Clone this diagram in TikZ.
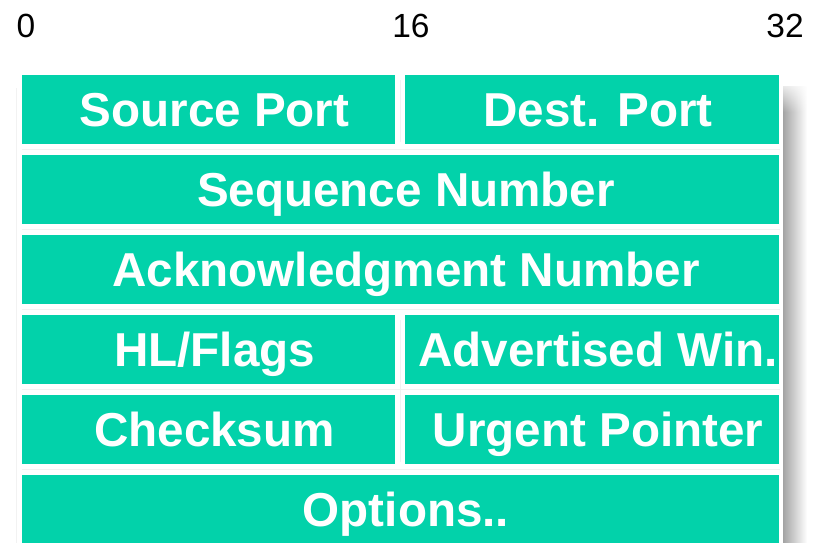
\documentclass[tikz,border=0pt]{standalone}
\usepackage{fontspec}
\setmainfont{Liberation Sans}
\usetikzlibrary{fadings}
\definecolor{teal1}{RGB}{2,210,170}
\tikzset{
  field/.style={fill=teal1, draw=none},
  ftext/.style={text=white, font=\bfseries\fontsize{47.6}{50}\selectfont, inner sep=0pt, anchor=base},
  bit/.style={text=black, font=\fontsize{33.5}{36}\selectfont, inner sep=0pt, anchor=base},
  gapline/.style={draw=black!5, line width=1pt}
}
\begin{document}
\begin{tikzpicture}[x=1pt,y=-1pt]
\useasboundingbox (0,0) rectangle (817,542);
\clip (0,0) rectangle (817,542);
% shadow
\shade[left color=black!36, right color=white] (783,86) rectangle (807,545);
\fill[white, path fading=south] (782,78) rectangle (808,112);
% faint gap lines
\draw[gapline] (16,88) -- (16,545);
\draw[gapline] (22,149.5) -- (780,149.5);
\draw[gapline] (22,229.5) -- (780,229.5);
\draw[gapline] (22,309.5) -- (780,309.5);
\draw[gapline] (22,389.5) -- (780,389.5);
\draw[gapline] (22,469.5) -- (780,469.5);
\draw[gapline] (400,80) -- (400,142);
\draw[gapline] (400,320) -- (400,462);
% bit labels
\node[bit] (b0) at (26,37.5) {0};
\node[bit] (b16) at (411,37.5) {16};
\node[bit] (b32) at (785,37.5) {32};
% fields
\fill[field] (22,75) rectangle (395,144);
\fill[field] (405,75) rectangle (778.5,144);
\fill[field] (22,155) rectangle (778.5,224);
\fill[field] (22,235) rectangle (778.5,304);
\fill[field] (22,315) rectangle (395,384);
\fill[field] (405,315) rectangle (778.5,384);
\fill[field] (22,395) rectangle (395,464);
\fill[field] (405,395) rectangle (778.5,464);
\fill[field] (22,475) rectangle (778.5,544);
% texts
\node[ftext] (sp) at (214.5,126) {Source Port};
\node[ftext] (dp) at (598,126) {Dest. Port};
\node[ftext] (sn) at (406,206) {Sequence Number};
\node[ftext] (an) at (406,286) {Acknowledgment Number};
\node[ftext] (hl) at (214.5,366) {HL/Flags};
\node[ftext] (aw) at (598,366) {Advertised Win.};
\node[ftext] (cs) at (214.5,446) {Checksum};
\node[ftext] (up) at (598,446) {Urgent Pointer};
\node[ftext] (op) at (406,526) {Options..};
\end{tikzpicture}
\end{document}
